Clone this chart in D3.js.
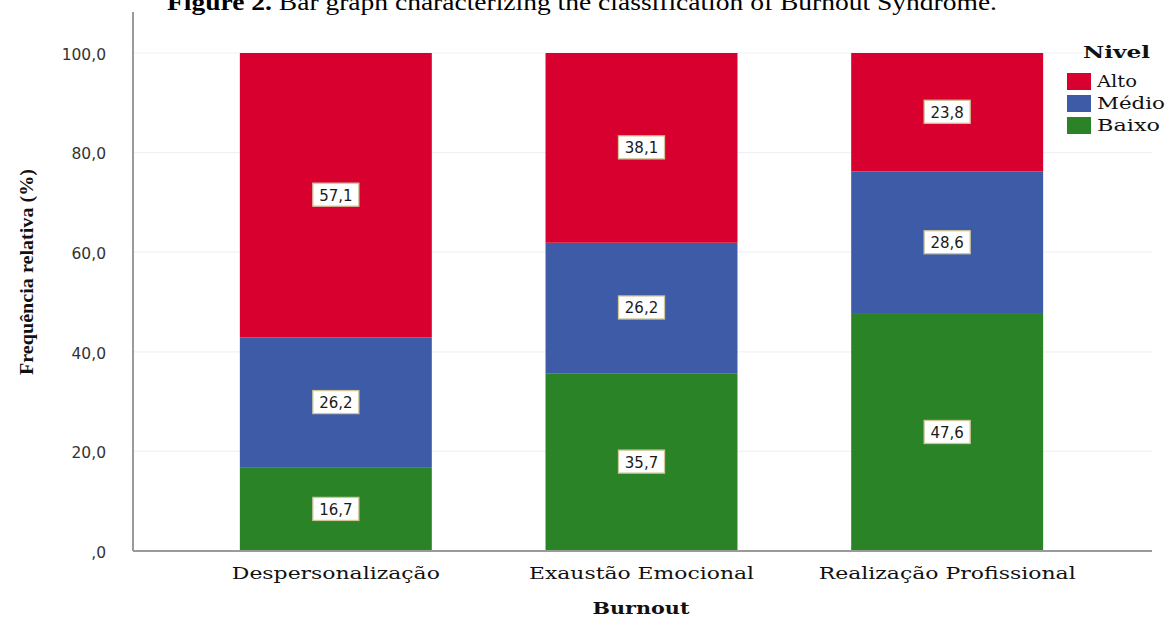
<!DOCTYPE html>
<html>
<head>
<meta charset="utf-8">
<script src="https://cdn.jsdelivr.net/npm/d3@7"></script>
<style>
  html, body { margin: 0; padding: 0; background: #fff; }
  svg { display: block; }
</style>
</head>
<body>
<svg id="chart" width="1166" height="617"></svg>
<script>
// ---- Data ----
const categories = ["Despersonalização", "Exaustão Emocional", "Realização Profissional"];
const levels = ["Baixo", "Médio", "Alto"];           // stacking order bottom -> top
const legendOrder = ["Alto", "Médio", "Baixo"];
const baixo = [16.7, 35.7, 47.6];
const medio = [26.2, 26.2, 28.6];
const alto  = [57.1, 38.1, 23.8];
const yTicks = [0, 20, 40, 60, 80, 100];
const yTickLabels = [",0", "20,0", "40,0", "60,0", "80,0", "100,0"];
const colors = { Alto: "#d7002f", "Médio": "#3e5ba8", Baixo: "#2a8427" };

const rows = categories.map((c, i) => ({ cat: c, Baixo: baixo[i], "Médio": medio[i], Alto: alto[i] }));

const svg = d3.select("#chart");

// Title (partly cut at the top, as in the reference)
const title = svg.append("text")
  .attr("x", 582).attr("y", 10)
  .attr("text-anchor", "middle")
  .attr("font-family", "Liberation Serif, serif")
  .attr("font-size", 24)
  .attr("textLength", 830).attr("lengthAdjust", "spacingAndGlyphs")
  .attr("fill", "#000");
title.append("tspan").attr("font-weight", "bold").text("Figure 2.");
title.append("tspan").text(" Bar graph characterizing the classification of Burnout Syndrome.");

const plotLeft = 133, plotRight = 1152, plotTop = 12, plotBottom = 551;

const y = d3.scaleLinear().domain([0, 100]).range([551, 53]);
const x = d3.scaleBand().domain(categories).range([183, 1100]).paddingInner(0.372).paddingOuter(0.186);

// Gridlines
svg.append("g").selectAll("line").data(yTicks.slice(1)).join("line")
  .attr("x1", plotLeft).attr("x2", plotRight)
  .attr("y1", d => y(d)).attr("y2", d => y(d))
  .attr("stroke", "#eef2f7").attr("stroke-width", 1.2);

// Stacked bars
const stack = d3.stack().keys(levels)(rows);
const segs = svg.append("g");
stack.forEach(layer => {
  segs.append("g").attr("fill", colors[layer.key])
    .selectAll("rect").data(layer).join("rect")
    .attr("x", d => x(d.data.cat))
    .attr("width", x.bandwidth())
    .attr("y", d => y(d[1]))
    .attr("height", d => y(d[0]) - y(d[1]));
});

// Value labels
const labG = svg.append("g");
stack.forEach(layer => {
  layer.forEach(d => {
    const v = d[1] - d[0];
    const cx = x(d.data.cat) + x.bandwidth() / 2;
    const cy = y((d[0] + d[1]) / 2);
    const g = labG.append("g").attr("transform", `translate(${cx},${cy})`);
    g.append("rect").attr("x", -23).attr("y", -12).attr("width", 46).attr("height", 23)
      .attr("fill", "#fff").attr("stroke", "#cfc69a").attr("stroke-width", 1.3);
    g.append("text").attr("text-anchor", "middle").attr("dy", "0.36em")
      .attr("font-family", "DejaVu Sans, sans-serif").attr("font-size", 15)
      .attr("fill", "#1a1a1a").text(d3.format(".1f")(v).replace(".", ","));
  });
});

// Axes lines
svg.append("line").attr("x1", plotLeft).attr("x2", plotLeft).attr("y1", plotTop).attr("y2", plotBottom)
  .attr("stroke", "#9a9a9a").attr("stroke-width", 2);
svg.append("line").attr("x1", plotLeft).attr("x2", plotRight).attr("y1", plotBottom).attr("y2", plotBottom)
  .attr("stroke", "#9a9a9a").attr("stroke-width", 2);

// Y tick labels via axis
const yAxis = d3.axisLeft(y).tickValues(yTicks).tickFormat((d, i) => yTickLabels[i]).tickSize(0).tickPadding(0);
const ya = svg.append("g").attr("transform", "translate(106,0)").call(yAxis);
ya.select(".domain").remove();
ya.selectAll("text").attr("font-family", "DejaVu Sans, sans-serif").attr("font-size", 15.5).attr("fill", "#333").attr("dy", "0.4em");

// X category labels via axis
const xAxis = d3.axisBottom(x).tickSize(0).tickPadding(0);
const xa = svg.append("g").attr("transform", "translate(0,566)").call(xAxis);
xa.select(".domain").remove();
const xLens = { "Despersonalização": 208, "Exaustão Emocional": 225, "Realização Profissional": 257 };
xa.selectAll("text").attr("font-family", "DejaVu Serif, serif").attr("font-size", 17).attr("fill", "#111")
  .attr("dy", "0.75em")
  .attr("textLength", d => xLens[d]).attr("lengthAdjust", "spacingAndGlyphs");

// Axis titles
svg.append("text").attr("x", 641).attr("y", 614).attr("text-anchor", "middle")
  .attr("font-family", "DejaVu Serif, serif").attr("font-weight", "bold").attr("font-size", 17)
  .attr("textLength", 97).attr("lengthAdjust", "spacingAndGlyphs")
  .attr("fill", "#111").text("Burnout");

svg.append("text").attr("transform", "translate(33,272) rotate(-90)").attr("text-anchor", "middle")
  .attr("font-family", "Liberation Serif, serif").attr("font-weight", "bold").attr("font-size", 19)
  .attr("textLength", 206).attr("lengthAdjust", "spacingAndGlyphs")
  .attr("fill", "#111").text("Frequência relativa (%)");

// Legend
const lg = svg.append("g");
lg.append("text").attr("x", 1083).attr("y", 58)
  .attr("font-family", "DejaVu Serif, serif").attr("font-weight", "bold").attr("font-size", 17)
  .attr("textLength", 67).attr("lengthAdjust", "spacingAndGlyphs")
  .attr("fill", "#111").text("Nivel");
const items = lg.selectAll("g.item").data(legendOrder).join("g")
  .attr("class", "item")
  .attr("transform", (d, i) => `translate(1067,${73 + i * 22})`);
items.append("rect").attr("width", 24).attr("height", 17).attr("fill", d => colors[d]);
const legLens = { Alto: 40, "Médio": 68, Baixo: 63 };
items.append("text").attr("x", 30).attr("y", 14)
  .attr("font-family", "DejaVu Serif, serif").attr("font-size", 17).attr("fill", "#111")
  .attr("textLength", d => legLens[d]).attr("lengthAdjust", "spacingAndGlyphs")
  .text(d => d);
</script>
</body>
</html>
